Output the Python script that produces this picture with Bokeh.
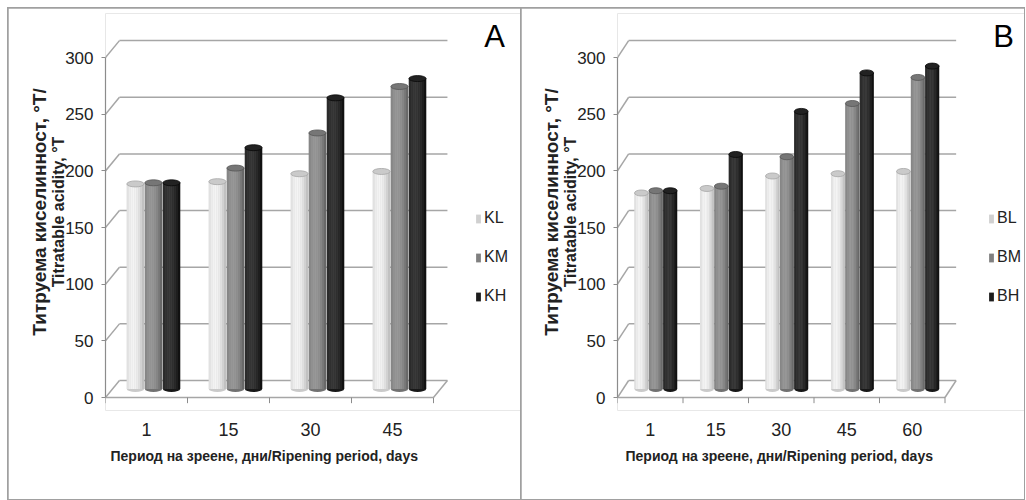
import math
import numpy as np
from bokeh.plotting import figure
from bokeh.models import Range1d, FixedTicker, Label, Legend, LegendItem, LinearAxis, Title
from bokeh.layouts import row
from bokeh.embed import file_html
from bokeh.resources import INLINE

# ---------------- data ----------------
days_a = ["1", "15", "30", "45"]
kl = [181, 183, 190, 192]
km = [182, 195, 226, 267]
kh = [182, 213, 257, 274]
names_a = ["KL", "KM", "KH"]

days_b = ["1", "15", "30", "45", "60"]
bl = [173, 177, 188, 190, 192]
bm = [175, 179, 205, 252, 275]
bh = [175, 207, 245, 279, 285]
names_b = ["BL", "BM", "BH"]

y_ticks = [0, 50, 100, 150, 200, 250, 300]
y_title_1 = "Титруема киселинност, °T/"
y_title_2 = "Titratable acidity, °T"
x_title = "Период на зреене, дни/Ripening period, days"

# ---------------- style ----------------
SANS = "Liberation Sans"
GRID = "#a6a6a6"
AXIS = "#8c8c8c"
TXT = "#222222"
STYLES = [  # edge, highlight, cap, legend
    ((184, 184, 184), (244, 244, 244), (202, 202, 202), "#d0d0d0"),
    ((96, 96, 96), (152, 152, 152), (118, 118, 118), "#808080"),
    ((10, 10, 10), (58, 58, 58), (34, 34, 34), "#1c1c1c"),
]


def mix(c1, c2, t):
    return "#%02x%02x%02x" % tuple(int(round(a + (b - a) * t)) for a, b in zip(c1, c2))


def title_axis(text, lo, hi, size, standoff):
    return LinearAxis(ticker=FixedTicker(ticks=[]), bounds=(lo, hi), axis_line_color=None,
                      major_tick_out=0, major_tick_in=0, minor_tick_out=0, minor_tick_in=0,
                      major_label_standoff=0, axis_label=text, axis_label_standoff=standoff,
                      axis_label_text_font=SANS, axis_label_text_font_style="bold",
                      axis_label_text_font_size=size, axis_label_text_color=TXT)


def build(cats, series, names, letter, fig_w, frame_left, px_cat, legend_x,
          xt_offset, letter_pos):
    n = len(cats)
    pxu = 1.133
    fig_h = 491
    frame_bottom = 402
    frame_top = 5
    frame_h = frame_bottom - frame_top
    y0 = -13 / pxu
    y1 = y0 + frame_h / pxu
    frame_w = fig_w - frame_left
    x0 = -0.5
    x1 = x0 + frame_w / px_cat
    p = figure(width=fig_w, height=fig_h, x_range=Range1d(x0, x1), y_range=Range1d(y0, y1),
               toolbar_location=None, output_backend="svg",
               min_border_left=frame_left, min_border_right=0, min_border_top=frame_top,
               min_border_bottom=fig_h - frame_bottom, outline_line_color=None,
               background_fill_color="white", border_fill_color="white")
    p.grid.visible = False

    dxb, dyb = 0.17, 15.0
    xf = n - 0.5
    gt = np.array(y_ticks, dtype=float)
    p.segment(x0=[x0] * len(gt), y0=gt, x1=[x0 + dxb] * len(gt), y1=gt + dyb,
              line_color=GRID, line_width=1.5)
    p.segment(x0=[x0 + dxb] * len(gt), y0=gt + dyb, x1=[xf + dxb] * len(gt), y1=gt + dyb,
              line_color=GRID, line_width=1.5)
    p.segment(x0=[x0, xf], y0=[0, 0], x1=[xf, xf + dxb], y1=[0, dyb],
              line_color=GRID, line_width=1.5)
    bx = np.arange(n + 1) - 0.5
    p.segment(x0=bx, y0=[0] * (n + 1), x1=bx, y1=[-5] * (n + 1), line_color=AXIS, line_width=1)

    w = 0.21
    step = 0.22
    N = 9
    idx = np.arange(n, dtype=float)
    items = []
    for k, vals in enumerate(series):
        edge, hi, cap, leg = STYLES[k]
        xc = idx + (k - 1) * step + dxb / 2
        top = np.array(vals, dtype=float) + dyb / 2
        bot = np.full(n, dyb / 2)
        p.ellipse(x=xc, y=bot, width=w, height=6, height_units="screen",
                  fill_color=mix(edge, hi, 0.3), line_color=None)
        body = p.vbar(x=xc, top=top, bottom=bot, width=w, fill_color=leg, line_color=None)
        for j in range(N):
            u = (j + 0.5) / N
            t = max(0.0, math.cos((u - 0.38) * math.pi / 1.25))
            p.vbar(x=xc - w / 2 + (j + 0.5) * w / N, top=top, bottom=bot, width=w / N * 1.08,
                   fill_color=mix(edge, hi, t), line_color=None)
        p.ellipse(x=xc, y=top, width=w, height=6, height_units="screen",
                  fill_color=mix(cap, cap, 0), line_color=mix(edge, (0, 0, 0), 0.1),
                  line_width=0.8)
        items.append(LegendItem(label=names[k], renderers=[body]))

    legend = Legend(items=items, location=(legend_x, 104), orientation="vertical",
                    glyph_width=6, glyph_height=11, label_standoff=3, spacing=19,
                    padding=0, margin=0, border_line_color=None, background_fill_alpha=0,
                    label_text_font=SANS, label_text_font_size="16px",
                    label_text_color=TXT, label_height=20)
    p.add_layout(legend)

    ya = p.yaxis[0]
    ya.ticker = FixedTicker(ticks=y_ticks)
    ya.bounds = (0, 300)
    ya.axis_line_color = AXIS
    ya.axis_line_width = 1.2
    ya.major_tick_line_color = AXIS
    ya.major_tick_out = 4
    ya.major_tick_in = 0
    ya.minor_tick_line_color = None
    ya.major_label_standoff = 8
    ya.major_label_text_font = SANS
    ya.major_label_text_font_size = "17px"
    ya.major_label_text_color = TXT

    c2 = (397 - 181) / pxu
    c1 = (397 - 238) / pxu
    p.add_layout(title_axis(y_title_2, c2 - 50, c2 + 50, "16px", -4), "left")
    p.add_layout(title_axis(y_title_1, c1 - 50, c1 + 50, "19px", -3), "left")

    xa = p.xaxis[0]
    xa.ticker = FixedTicker(ticks=list(range(n)))
    xa.major_label_overrides = {i: c for i, c in enumerate(cats)}
    xa.axis_line_color = None
    xa.major_tick_line_color = None
    xa.minor_tick_line_color = None
    xa.major_label_standoff = 6
    xa.major_label_text_font = SANS
    xa.major_label_text_font_size = "18px"
    xa.major_label_text_color = TXT

    p.add_layout(Title(text=x_title, align="left", offset=xt_offset, standoff=15,
                       text_font=SANS, text_font_style="bold", text_font_size="14px",
                       text_color=TXT), "below")

    p.add_layout(Label(x=letter_pos[0], y=letter_pos[1], x_units="screen", y_units="screen",
                       text=letter, text_align="center", text_baseline="middle",
                       text_font=SANS, text_font_size="31px", text_color="#000000"))
    return p


pA = build(days_a, [kl, km, kh], names_a, "A", 512, 97, 82.0, 370, 5, (389, 374))
pB = build(days_b, [bl, bm, bh], names_b, "B", 503, 96, 65.5, 371, 8, (386, 374))
pA.margin = (1, 0, 1, 1)
pB.margin = (1, 1, 1, 1)

layout = row(pA, pB, spacing=0, margin=(7, 0, 0, 7),
             styles={"background-color": "#a0a0a0"})

open("out.html", "w").write(file_html(layout, INLINE))
